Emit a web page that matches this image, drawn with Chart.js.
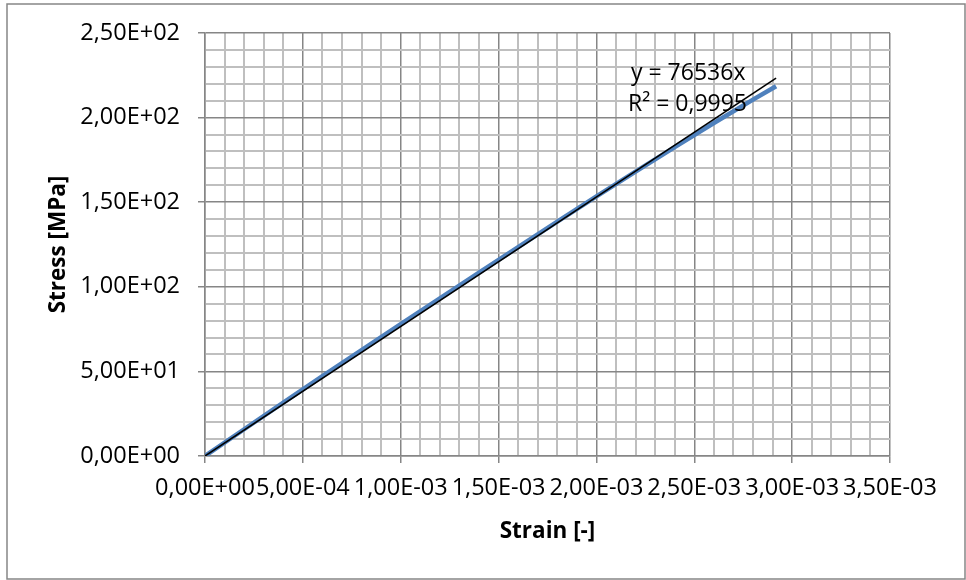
<!DOCTYPE html>
<html>
<head>
<meta charset="utf-8">
<script src="https://cdn.jsdelivr.net/npm/chart.js@4"></script>
<style>
  html, body { margin: 0; padding: 0; background: #fff; }
  #wrap { width: 966px; height: 580px; }
</style>
</head>
<body>
<div id="wrap"><canvas id="stressChart" width="966" height="580"></canvas></div>
<script>
// measured series (strain [-], stress [MPa])
const strainValues = [0, 2e-4, 4e-4, 6e-4, 8e-4, 1.0e-3, 1.2e-3, 1.4e-3, 1.6e-3, 1.8e-3, 2.0e-3, 2.2e-3, 2.4e-3, 2.6e-3, 2.8e-3, 2.918e-3];
const stressValues = [0, 15.8, 31.5, 47.2, 62.6, 78.0, 93.2, 108.4, 123.5, 138.5, 153.4, 168.1, 182.6, 196.8, 210.6, 218.5];

// linear trendline through origin, y = 76536x
const trendX = [0, 2.918e-3];
const trendY = [0, 223.3];
const trendLabels = ['y = 76536x', 'R\u00b2 = 0,9995'];

const X_MIN = 0, X_MAX = 3.5e-3, X_STEP = 1e-4;
const Y_MIN = 0, Y_MAX = 250, Y_STEP = 10;

const COLORS = {
    series: '#4F81BD',
    trend: '#000000',
    majorGrid: '#868686',
    minorGrid: '#bfbfbf',
    frame: '#868686',
    text: '#000000'
};
const FONT = '"Open Sans", Lato, sans-serif';
const TICK_SIZE = 23.5;
const TITLE_SIZE = 22.5;

function excelSci(v) {
    // 2,50E+02 style
    if (Math.abs(v) < 1e-12) return '0,00E+00';
    const parts = v.toExponential(2).split('e');
    let exp = parseInt(parts[1], 10);
    const sign = exp < 0 ? '-' : '+';
    exp = Math.abs(exp);
    return parts[0].replace('.', ',') + 'E' + sign + (exp < 10 ? '0' + exp : exp);
}

const frameAndText = {
    id: 'frameAndText',
    beforeDraw(chart) {
        const ctx = chart.ctx;
        ctx.save();
        ctx.fillStyle = '#ffffff';
        ctx.fillRect(0, 0, chart.width, chart.height);
        ctx.strokeStyle = COLORS.frame;
        ctx.lineWidth = 1.5;
        ctx.strokeRect(7, 4, 958, 575);
        ctx.restore();
    },
    afterDatasetsDraw(chart) {
        const ctx = chart.ctx;
        ctx.save();
        ctx.fillStyle = COLORS.text;
        ctx.font = '23px ' + FONT;
        ctx.textBaseline = 'alphabetic';
        ctx.fillText(trendLabels[0], 631, 80);
        ctx.fillText(trendLabels[1], 628, 111);
        ctx.restore();
    }
};

const isMajor = (ctx, every) => ctx.index % every === 0;

const stressChart = new Chart(document.getElementById('stressChart'), {
    type: 'scatter',
    data: {
        datasets: [
            {
                label: 'Linear trend',
                data: trendX.map((x, i) => ({ x: x, y: trendY[i] })),
                showLine: true,
                borderColor: COLORS.trend,
                borderWidth: 1.6,
                pointRadius: 0,
                order: 0
            },
            {
                label: 'Stress',
                data: strainValues.map((x, i) => ({ x: x, y: stressValues[i] })),
                showLine: true,
                borderColor: COLORS.series,
                borderWidth: 4.5,
                pointRadius: 0,
                order: 1
            }
        ]
    },
    options: {
        responsive: false,
        animation: false,
        layout: { padding: { left: 0, top: 33, right: 76, bottom: 0 } },
        plugins: {
            legend: { display: false },
            tooltip: { enabled: false }
        },
        scales: {
            x: {
                type: 'linear',
                min: X_MIN,
                max: X_MAX,
                afterFit: (scale) => { scale.height = 124; },
                border: { color: COLORS.majorGrid, width: 1.5 },
                grid: {
                    color: (c) => isMajor(c, 5) ? COLORS.majorGrid : COLORS.minorGrid,
                    lineWidth: (c) => isMajor(c, 5) ? 1.5 : 2,
                    tickColor: (c) => isMajor(c, 5) ? COLORS.majorGrid : 'rgba(0,0,0,0)',
                    tickLength: 7,
                    tickWidth: 1.5
                },
                ticks: {
                    stepSize: X_STEP,
                    maxTicksLimit: 100,
                    autoSkip: false,
                    maxRotation: 0,
                    minRotation: 0,
                    padding: 11,
                    color: COLORS.text,
                    font: { family: FONT, size: TICK_SIZE },
                    callback: (v, i) => i % 5 === 0 ? excelSci(v) : ''
                },
                title: {
                    display: true,
                    text: 'Strain [-]',
                    color: COLORS.text,
                    font: { family: FONT, size: TITLE_SIZE, weight: 'bold' },
                    padding: { top: 0, bottom: 35 }
                }
            },
            y: {
                type: 'linear',
                min: Y_MIN,
                max: Y_MAX,
                afterFit: (scale) => { scale.width = 205; },
                border: { color: COLORS.majorGrid, width: 1.5 },
                grid: {
                    color: (c) => isMajor(c, 5) ? COLORS.majorGrid : COLORS.minorGrid,
                    lineWidth: (c) => isMajor(c, 5) ? 1.5 : 2,
                    tickColor: (c) => isMajor(c, 5) ? COLORS.majorGrid : 'rgba(0,0,0,0)',
                    tickLength: 7,
                    tickWidth: 1.5
                },
                ticks: {
                    stepSize: Y_STEP,
                    maxTicksLimit: 100,
                    autoSkip: false,
                    padding: 18,
                    color: COLORS.text,
                    font: { family: FONT, size: TICK_SIZE },
                    callback: (v, i) => i % 5 === 0 ? excelSci(v) : ''
                },
                title: {
                    display: true,
                    text: 'Stress [MPa]',
                    color: COLORS.text,
                    font: { family: FONT, size: TITLE_SIZE, weight: 'bold' },
                    padding: { top: 45, bottom: 0 }
                }
            }
        }
    },
    plugins: [frameAndText]
});
</script>
</body>
</html>
